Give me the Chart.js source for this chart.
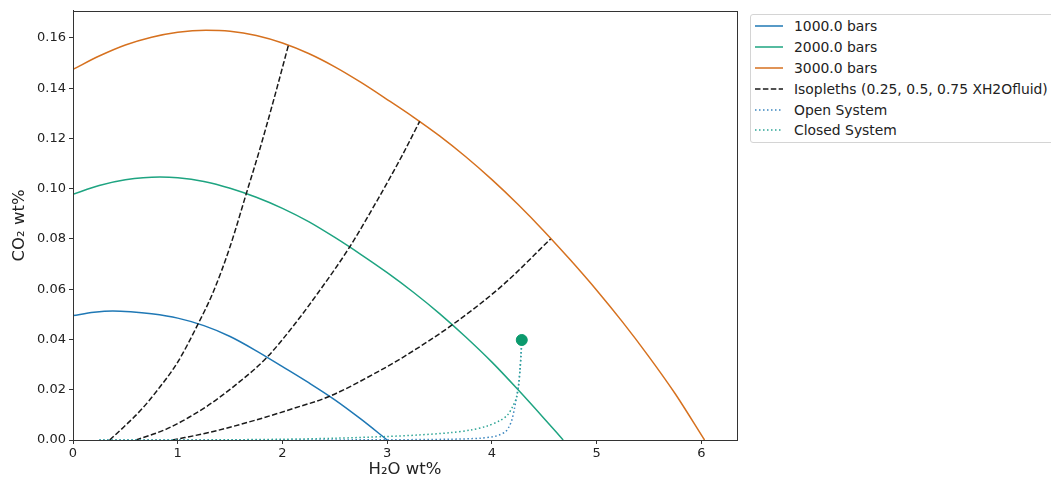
<!DOCTYPE html>
<html>
<head>
<meta charset="utf-8">
<title>Isobars and isopleths</title>
<script src="https://cdn.jsdelivr.net/npm/chart.js@4.4.0/dist/chart.umd.min.js"></script>
<style>
  html, body { margin: 0; padding: 0; background: #fff; overflow: hidden; }
  #wrap { position: relative; width: 1051px; height: 482px; }
  #legend {
    position: absolute; left: 750px; top: 14px; width: 330px; height: 129px;
    border: 1px solid #d4d4d4; border-radius: 3px; box-sizing: border-box;
    padding-top: 1px; background: #fff;
    font-family: 'DejaVu Sans', sans-serif; font-size: 13.9px; color: #222;
  }
  .row { height: 20.8px; display: flex; align-items: center; white-space: nowrap; }
  .row svg { margin-left: 4px; margin-right: 11px; flex: none; }
</style>
</head>
<body>
<div id="wrap">
  <canvas id="chart" width="1051" height="482"></canvas>
  <div id="legend"></div>
</div>
<script>
// isobars: H2O wt% vs CO2 wt% at fixed pressure
const isobarLabels = ['1000.0 bars', '2000.0 bars', '3000.0 bars'];
const isobarColors = ['#1f78b5', '#1ea481', '#d6711f'];

const isobar1000X = [0, 0.2, 0.38, 0.55, 0.75, 1.0, 1.25, 1.5, 1.75, 2.0, 2.25, 2.5, 2.75, 3.0];
const isobar1000Y = [0.0495, 0.0508, 0.0513, 0.0510, 0.0502, 0.0485, 0.0455, 0.0412, 0.0355, 0.0292, 0.0228, 0.0160, 0.0083, 0.0];

const isobar2000X = [0, 0.25, 0.5, 0.83, 1.0, 1.25, 1.5, 1.75, 2.0, 2.25, 2.5, 2.75, 3.0, 3.25, 3.5, 3.75, 4.0, 4.25, 4.5, 4.68];
const isobar2000Y = [0.0978, 0.1013, 0.1036, 0.1047, 0.1044, 0.1029, 0.1002, 0.0966, 0.0922, 0.0869, 0.0806, 0.0738, 0.0666, 0.0588, 0.0503, 0.0410, 0.0310, 0.0200, 0.0085, 0.0];

const isobar3000X = [0, 0.25, 0.5, 0.75, 1.0, 1.27, 1.5, 1.75, 2.0, 2.25, 2.5, 2.75, 3.0, 3.25, 3.5, 3.75, 4.0, 4.25, 4.5, 4.75, 5.0, 5.25, 5.5, 5.75, 6.03];
const isobar3000Y = [0.1475, 0.1528, 0.1572, 0.1603, 0.1623, 0.1631, 0.1627, 0.1610, 0.1580, 0.1538, 0.1485, 0.1423, 0.1355, 0.1285, 0.1210, 0.1127, 0.1036, 0.0937, 0.0830, 0.0716, 0.0596, 0.0468, 0.0331, 0.0184, 0.0];

// isopleths for XH2Ofluid = 0.25, 0.5, 0.75
const iso25X = [0.35, 0.48, 0.65, 0.80, 1.0, 1.18, 1.34, 1.5, 1.655, 1.78, 1.92, 2.06];
const iso25Y = [0, 0.0050, 0.0120, 0.0195, 0.0310, 0.0450, 0.0590, 0.0770, 0.0981, 0.1152, 0.1359, 0.1576];

const iso50X = [0.6, 0.9, 1.27, 1.6, 1.85, 2.1, 2.33, 2.64, 2.9, 3.14, 3.31];
const iso50Y = [0, 0.0045, 0.0132, 0.0235, 0.0328, 0.0452, 0.0580, 0.0767, 0.0950, 0.1130, 0.1268];

const iso75X = [0.95, 1.3, 1.75, 2.1, 2.45, 2.93, 3.15, 3.62, 4.1, 4.56];
const iso75Y = [0, 0.0030, 0.0080, 0.0125, 0.0174, 0.0276, 0.0329, 0.0458, 0.0615, 0.0800];

// degassing paths from the starting melt composition
const startH2O = 4.285;
const startCO2 = 0.0398;

const openX = [4.285, 4.278, 4.268, 4.255, 4.235, 4.215, 4.19, 4.16, 4.13, 4.07, 4.01, 3.89, 3.6, 3.0, 2.0, 0.25];
const openY = [0.0398, 0.034, 0.028, 0.022, 0.017, 0.0125, 0.0079, 0.0050, 0.0033, 0.0020, 0.0013, 0.0007, 0.0003, 0.0001, 0, 0];

const closedX = [4.285, 4.278, 4.268, 4.255, 4.235, 4.2, 4.15, 4.08, 3.95, 3.8, 3.6, 3.3, 3.0, 2.5, 2.0, 1.5, 1.0, 0.25];
const closedY = [0.0398, 0.034, 0.028, 0.022, 0.017, 0.0135, 0.0100, 0.0078, 0.0055, 0.0040, 0.0029, 0.0020, 0.0014, 0.0007, 0.0003, 0.0001, 0, 0];

const xTicks = [0, 1, 2, 3, 4, 5, 6];
const yTicks = [0, 0.02, 0.04, 0.06, 0.08, 0.10, 0.12, 0.14, 0.16];

const toPoints = (xs, ys) => xs.map((x, i) => ({ x: x, y: ys[i] }));

const dashed = [5.5, 2.4];
const dotted = [1.5, 2.5];

function lineSet(label, xs, ys, color, dash, order, inLegend, smooth) {
  return {
    label: label,
    data: toPoints(xs, ys),
    showLine: true,
    borderColor: color,
    backgroundColor: color,
    borderWidth: 1.5,
    borderDash: dash,
    pointRadius: 0,
    pointHoverRadius: 0,
    cubicInterpolationMode: smooth ? 'monotone' : 'default',
    tension: 0.3,
    fill: false,
    order: order,
    inLegend: inLegend
  };
}

const datasets = [
  lineSet(isobarLabels[0], isobar1000X, isobar1000Y, isobarColors[0], [], 6, true, true),
  lineSet(isobarLabels[1], isobar2000X, isobar2000Y, isobarColors[1], [], 6, true, true),
  lineSet(isobarLabels[2], isobar3000X, isobar3000Y, isobarColors[2], [], 6, true, true),
  lineSet('Isopleths (0.25, 0.5, 0.75 XH2Ofluid)', iso25X, iso25Y, '#1a1a1a', dashed, 5, true, true),
  lineSet('', iso50X, iso50Y, '#1a1a1a', dashed, 5, false, true),
  lineSet('', iso75X, iso75Y, '#1a1a1a', dashed, 5, false, true),
  lineSet('Open System', openX, openY, '#3b86bf', dotted, 4, true, false),
  lineSet('Closed System', closedX, closedY, '#2ea596', dotted, 3, true, false),
  {
    label: '',
    data: [{ x: startH2O, y: startCO2 }],
    pointRadius: 5.5,
    pointBackgroundColor: '#0b9a6d',
    pointBorderColor: '#0b9a6d',
    order: 0,
    inLegend: false
  }
];

// full box around the plot area
const frame = {
  id: 'frame',
  afterDatasetsDraw(chart) {
    const a = chart.chartArea;
    const ctx = chart.ctx;
    ctx.save();
    ctx.strokeStyle = '#333';
    ctx.lineWidth = 1;
    ctx.strokeRect(Math.round(a.left) + 0.5, Math.round(a.top) + 0.5,
      Math.round(a.right - a.left), Math.round(a.bottom - a.top));
    ctx.restore();
  }
};

const tickFont = { family: 'DejaVu Sans', size: 13 };
const titleFont = { family: 'DejaVu Sans', size: 16.5 };

const chart = new Chart(document.getElementById('chart'), {
  type: 'scatter',
  data: { datasets: datasets },
  plugins: [frame],
  options: {
    responsive: false,
    animation: false,
    events: [],
    layout: { padding: { top: 8, right: 314, left: 0, bottom: 0 } },
    plugins: { legend: { display: false }, tooltip: { enabled: false } },
    scales: {
      x: {
        type: 'linear',
        min: 0,
        max: 6.34,
        afterBuildTicks: s => { s.ticks = xTicks.map(v => ({ value: v })); },
        afterFit: s => { s.height = 42; },
        ticks: { font: tickFont, color: '#222', padding: 2, maxRotation: 0,
          callback: v => String(v) },
        grid: { drawOnChartArea: false, tickLength: 4, tickColor: '#333' },
        border: { display: true, color: '#333' },
        title: { display: true, text: 'H₂O wt%', font: titleFont, color: '#222',
          padding: { top: 0, bottom: 2 } }
      },
      y: {
        type: 'linear',
        min: 0,
        max: 0.1708,
        afterBuildTicks: s => { s.ticks = yTicks.map(v => ({ value: v })); },
        afterFit: s => { s.width = 73; },
        ticks: { font: tickFont, color: '#222', padding: 3,
          callback: v => v.toFixed(2) },
        grid: { drawOnChartArea: false, tickLength: 4, tickColor: '#333' },
        border: { display: true, color: '#333' },
        title: { display: true, text: 'CO₂ wt%', font: titleFont, color: '#222',
          padding: { top: 10, bottom: 0 } }
      }
    }
  }
});

// legend built from the chart's datasets
const legend = document.getElementById('legend');
chart.data.datasets.filter(d => d.inLegend).forEach(d => {
  const row = document.createElement('div');
  row.className = 'row';
  const dash = (d.borderDash || []).join(' ');
  row.innerHTML =
    '<svg width="28" height="10"><line x1="0" y1="5" x2="28" y2="5" stroke="' + d.borderColor +
    '" stroke-width="1.5"' + (dash ? ' stroke-dasharray="' + dash + '"' : '') + '/></svg>';
  const span = document.createElement('span');
  span.textContent = d.label;
  row.appendChild(span);
  legend.appendChild(row);
});
</script>
</body>
</html>
